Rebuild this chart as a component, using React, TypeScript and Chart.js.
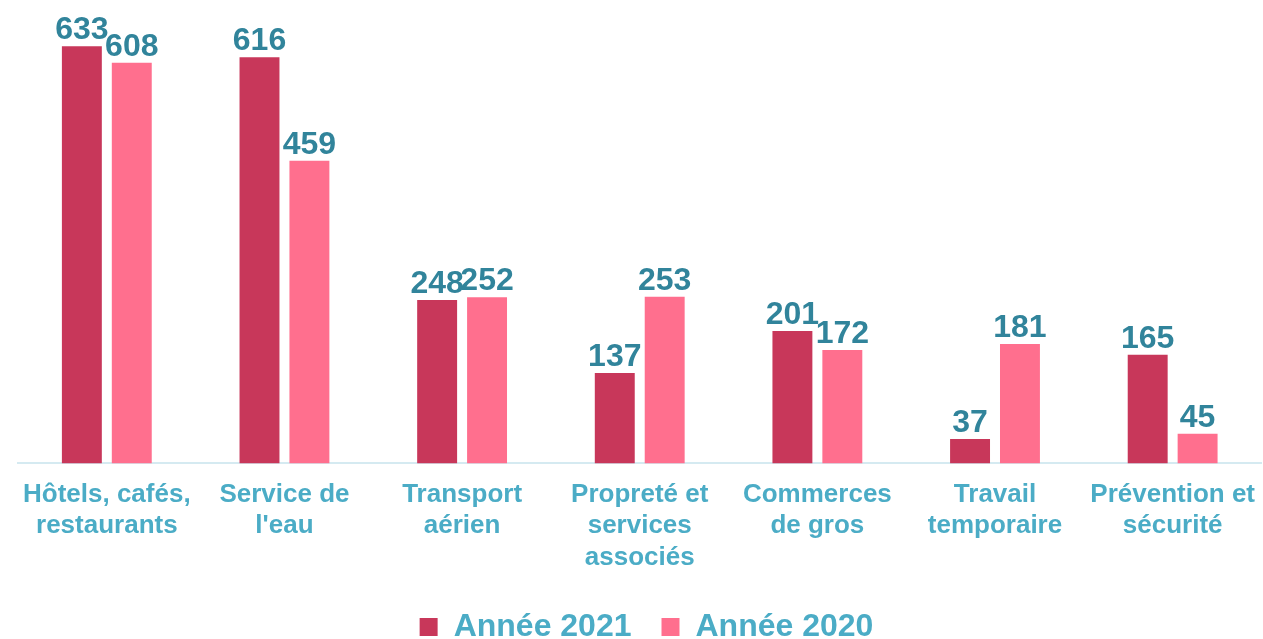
import React, { useEffect, useRef } from "react";
import { Chart, registerables } from "chart.js";

Chart.register(...registerables);

const categories: string[][] = [
  ["Hôtels, cafés,", "restaurants"],
  ["Service de", "l'eau"],
  ["Transport", "aérien"],
  ["Propreté et", "services", "associés"],
  ["Commerces", "de gros"],
  ["Travail", "temporaire"],
  ["Prévention et", "sécurité"],
];
const values2021: number[] = [633, 616, 248, 137, 201, 37, 165];
const values2020: number[] = [608, 459, 252, 253, 172, 181, 45];
const seriesNames: string[] = ["Année 2021", "Année 2020"];

const FONT = "'Liberation Sans', Arial, sans-serif";

const valueLabels = {
  id: "valueLabels",
  afterDatasetsDraw(chart: any) {
    const ctx = chart.ctx;
    ctx.save();
    ctx.font = `bold 32px ${FONT}`;
    ctx.fillStyle = "#31849B";
    ctx.textAlign = "center";
    ctx.textBaseline = "alphabetic";
    chart.data.datasets.forEach((ds: any, i: number) => {
      const meta = chart.getDatasetMeta(i);
      meta.data.forEach((bar: any, j: number) => {
        ctx.fillText(String(ds.data[j]), bar.x, bar.y - 7);
      });
    });
    ctx.restore();
  },
};

export default function App() {
  const ref = useRef<HTMLCanvasElement>(null);
  useEffect(() => {
    document.body.style.margin = "0";
    const chart = new Chart(ref.current!, {
      type: "bar",
      data: {
        labels: categories,
        datasets: [
          { label: seriesNames[0], data: values2021, backgroundColor: "#C8375A" },
          { label: seriesNames[1], data: values2020, backgroundColor: "#FF6F8E" },
        ],
      },
      options: {
        animation: false,
        responsive: false,
        maintainAspectRatio: false,
        layout: { padding: { left: 18, right: -12, top: 2, bottom: -14 } },
        datasets: { bar: { categoryPercentage: 0.562, barPercentage: 0.8 } } as any,
        scales: {
          x: {
            grid: { display: false },
            border: { color: "#D5EAF1", width: 2 },
            ticks: {
              color: "#4BACC6",
              font: { family: FONT, size: 26, weight: "bold", lineHeight: 1.2 },
              maxRotation: 0,
              autoSkip: false,
              padding: 8,
            },
          },
          y: { display: false, min: 0, max: 700 },
        },
        plugins: {
          legend: {
            position: "bottom",
            labels: {
              color: "#4BACC6",
              font: { family: FONT, size: 32, weight: "bold" },
              boxWidth: 18,
              boxHeight: 18,
              padding: 30,
            },
          },
          tooltip: { enabled: false },
        },
      },
      plugins: [valueLabels],
    });
    return () => chart.destroy();
  }, []);
  return (
    <div style={{ width: 1263, height: 639 }}>
      <canvas ref={ref} width={1263} height={639} style={{ display: "block" }} />
    </div>
  );
}
